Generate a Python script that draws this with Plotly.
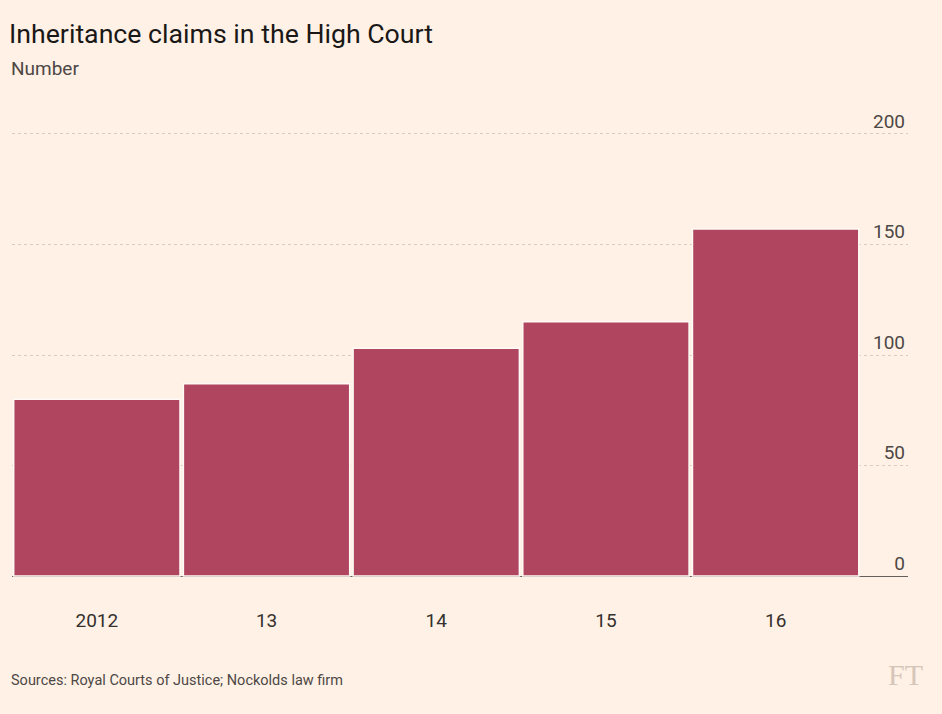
import plotly.graph_objects as go

# Inheritance claims in the High Court, number per year
years = ["2012", "13", "14", "15", "16"]
claims = [80, 87, 103, 115, 157]

y_ticks = [0, 50, 100, 150, 200]

BG = "#fff1e5"
BAR = "#b04560"
TEXT = "#33302e"
FONT = "Roboto, Arial"

fig = go.Figure()
fig.add_trace(go.Bar(
    x=years,
    y=claims,
    marker=dict(color=BAR, line=dict(color="#fffaf5", width=1.5)),
    hoverinfo="x+y",
))

fig.update_layout(
    width=942,
    height=714,
    paper_bgcolor=BG,
    plot_bgcolor=BG,
    margin=dict(l=12, r=34, t=103, b=107),
    bargap=0.02,
    showlegend=False,
    font=dict(family=FONT, color=TEXT),
)

fig.update_xaxes(
    type="category",
    range=[-0.5, 4.78],
    showgrid=False,
    showline=False,
    ticks="",
    ticklabelstandoff=0,
    tickfont=dict(size=19, color=TEXT),
)

# padding below 0 and above 200 so the inside tick labels are not dropped
fig.update_yaxes(
    side="right",
    range=[-14, 214],
    tickvals=y_ticks,
    ticklabelposition="inside",
    ticklabelshift=-13,
    ticklabelstandoff=0,
    tickfont=dict(size=19, color="#4d4845"),
    showgrid=True,
    gridcolor="#d9cbc1",
    griddash="dot",
    gridwidth=1,
    zeroline=True,
    zerolinecolor="#66605c",
    zerolinewidth=1.2,
    showline=False,
    ticks="",
)

fig.add_annotation(
    text="Inheritance claims in the High Court",
    xref="paper", yref="paper", x=0, y=1.0, xanchor="left", yanchor="bottom",
    xshift=-5, yshift=51, showarrow=False,
    font=dict(size=26.7, color="#1a1817", family=FONT),
)
fig.add_annotation(
    text="Number",
    xref="paper", yref="paper", x=0, y=1.0, xanchor="left", yanchor="bottom",
    xshift=-3, yshift=21, showarrow=False,
    font=dict(size=19, color="#4d4845", family=FONT),
)
fig.add_annotation(
    text="Sources: Royal Courts of Justice; Nockolds law firm",
    xref="paper", yref="paper", x=0, y=0, xanchor="left", yanchor="top",
    xshift=-3, yshift=-63, showarrow=False,
    font=dict(size=14.5, color="#4d4845", family=FONT),
)
fig.add_annotation(
    text="FT",
    xref="paper", yref="paper", x=1.0, y=0, xanchor="center", yanchor="top",
    xshift=-3, yshift=-49, showarrow=False,
    font=dict(size=30, color="#d6c6ba", family="Liberation Serif, DejaVu Serif"),
)

fig.write_html(
    "out.html",
    config={"displayModeBar": False},
    post_script="document.body.style.margin='0';",
)
